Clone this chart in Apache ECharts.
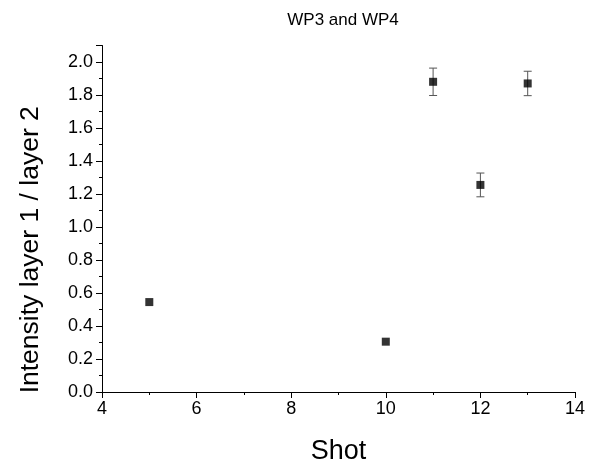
<!DOCTYPE html>
<html>
<head>
<meta charset="utf-8">
<script src="https://cdn.jsdelivr.net/npm/echarts@6/dist/echarts.min.js"></script>
<style>
  html, body { margin: 0; padding: 0; background: #fff; }
  #chart { width: 589px; height: 468px; }
</style>
</head>
<body>
<div id="chart"></div>
<script>
// Measured intensity ratio per shot
var shots = [5, 10, 11, 12, 13];
var ratios = [0.545, 0.305, 1.88, 1.255, 1.87];
var errors = [0, 0, 0.083, 0.072, 0.074];

var pointData = shots.map(function (s, i) { return [s, ratios[i]]; });
var errData = shots.map(function (s, i) {
  return [s, ratios[i] - errors[i], ratios[i] + errors[i]];
}).filter(function (d, i) { return errors[i] > 0; });

var font = 'Liberation Sans, Arial, sans-serif';
var chart = echarts.init(document.getElementById('chart'));
chart.setOption({
  animation: false,
  title: {
    text: 'WP3 and WP4',
    left: 338, top: 7, textAlign: 'center',
    textStyle: { fontFamily: font, fontSize: 17, fontWeight: 'normal', color: '#000' }
  },
  grid: {
    left: 102, right: 14, top: 45.5, bottom: 76,
    containLabel: false, outerBoundsMode: 'none'
  },
  xAxis: {
    type: 'value', min: 4, max: 14, interval: 2,
    name: 'Shot', nameLocation: 'middle', nameGap: 46,
    nameTextStyle: { fontFamily: font, fontSize: 27, color: '#000' },
    axisLine: { show: true, onZero: false, lineStyle: { color: '#000', width: 1 } },
    axisTick: { show: true, inside: false, length: 6, lineStyle: { color: '#000' } },
    minorTick: { show: true, splitNumber: 2, length: 3, lineStyle: { color: '#000' } },
    axisLabel: { fontFamily: font, fontSize: 18, color: '#000', margin: 8 },
    splitLine: { show: false }
  },
  yAxis: {
    type: 'value', min: 0, max: 2.1, interval: 0.2,
    name: 'Intensity layer 1 / layer 2', nameLocation: 'middle', nameGap: 58,
    nameTextStyle: { fontFamily: font, fontSize: 26.5, color: '#000', padding: [0, 62, 0, 0] },
    axisLine: { show: true, onZero: false, lineStyle: { color: '#000', width: 1 } },
    axisTick: { show: true, inside: false, length: 6, lineStyle: { color: '#000' } },
    minorTick: { show: true, splitNumber: 2, length: 3, lineStyle: { color: '#000' } },
    axisLabel: {
      fontFamily: font, fontSize: 18, color: '#000', margin: 9, showMaxLabel: false,
      formatter: function (v) { return v.toFixed(1); }
    },
    splitLine: { show: false }
  },
  series: [
    {
      type: 'custom',
      data: errData,
      z: 1,
      renderItem: function (params, api) {
        var x = api.value(0);
        var lo = api.coord([x, api.value(1)]);
        var hi = api.coord([x, api.value(2)]);
        var cap = 4;
        var style = { stroke: '#555', lineWidth: 1 };
        return {
          type: 'group',
          children: [
            { type: 'line', shape: { x1: lo[0], y1: lo[1], x2: hi[0], y2: hi[1] }, style: style },
            { type: 'line', shape: { x1: lo[0] - cap, y1: lo[1], x2: lo[0] + cap, y2: lo[1] }, style: style },
            { type: 'line', shape: { x1: hi[0] - cap, y1: hi[1], x2: hi[0] + cap, y2: hi[1] }, style: style }
          ]
        };
      }
    },
    {
      type: 'scatter',
      data: pointData,
      symbol: 'rect',
      symbolSize: 8,
      z: 2,
      itemStyle: { color: '#000' }
    }
  ]
});
</script>
</body>
</html>
